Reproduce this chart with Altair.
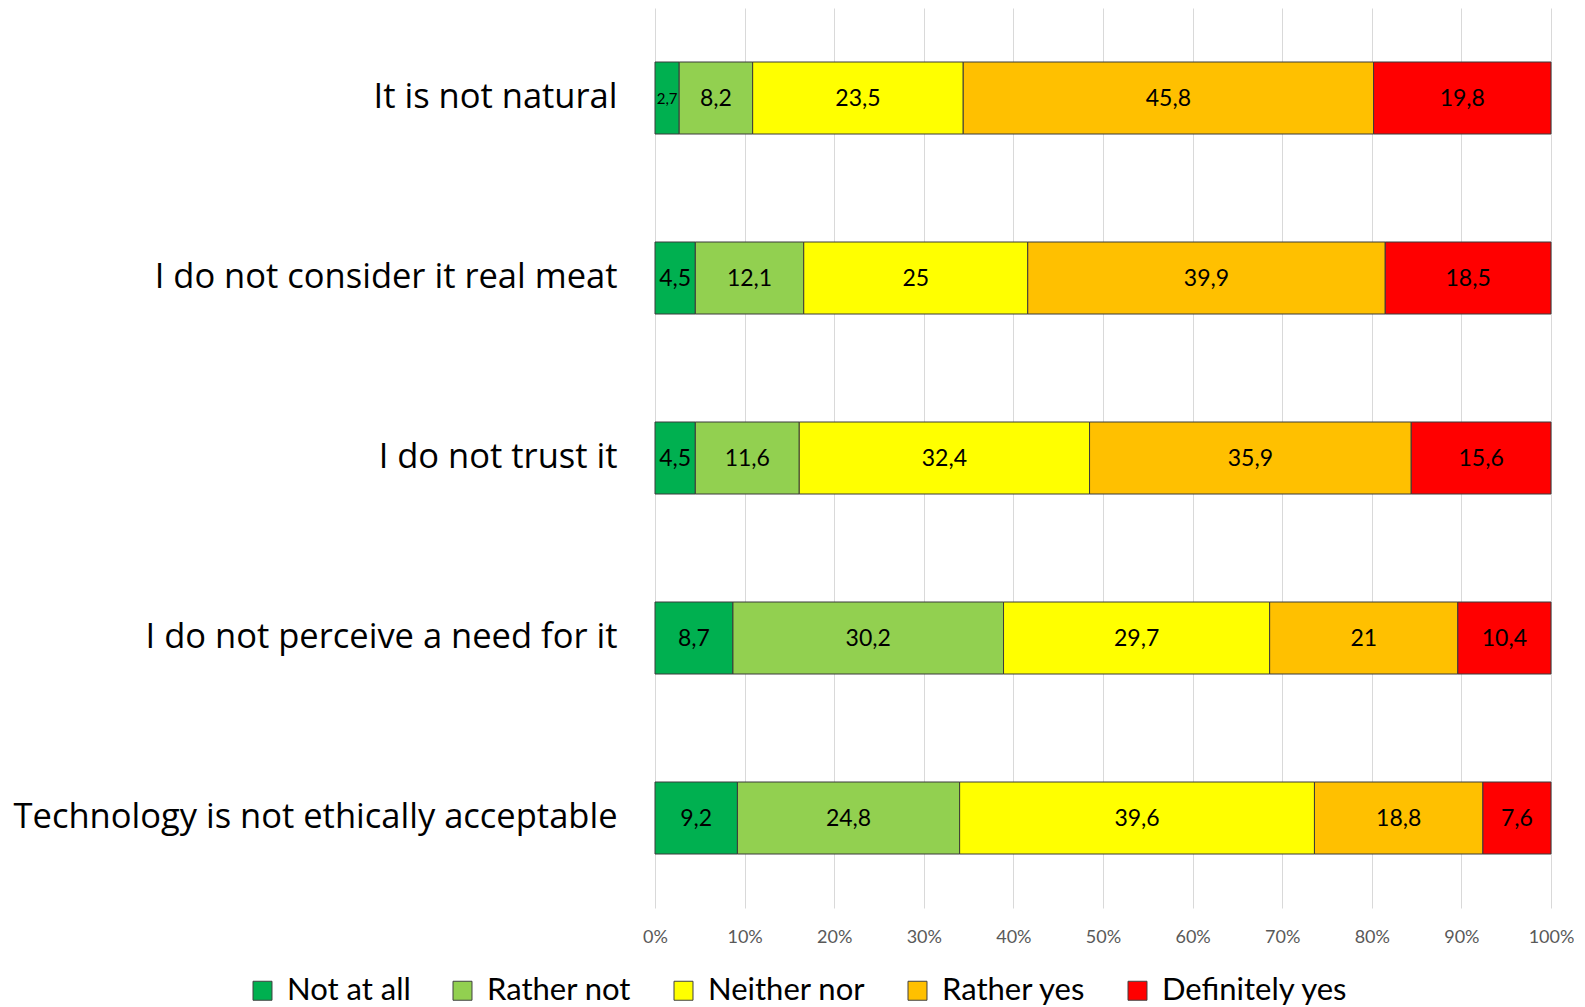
import altair as alt
import pandas as pd

# Statements shown on the vertical axis (top to bottom)
items = [
    "It is not natural",
    "I do not consider it real meat",
    "I do not trust it",
    "I do not perceive a need for it",
    "Technology is not ethically acceptable",
]

# Answer categories in stacking order and their colours
answers = ["Not at all", "Rather not", "Neither nor", "Rather yes", "Definitely yes"]
colors = ["#00B050", "#92D050", "#FFFF00", "#FFC000", "#FF0000"]

# Share of respondents (%) per answer, one list per statement
not_at_all = [2.7, 4.5, 4.5, 8.7, 9.2]
rather_not = [8.2, 12.1, 11.6, 30.2, 24.8]
neither_nor = [23.5, 25.0, 32.4, 29.7, 39.6]
rather_yes = [45.8, 39.9, 35.9, 21.0, 18.8]
definitely_yes = [19.8, 18.5, 15.6, 10.4, 7.6]

series = [not_at_all, rather_not, neither_nor, rather_yes, definitely_yes]

rows = []
for k, (answer, vals) in enumerate(zip(answers, series)):
    for item, v in zip(items, vals):
        rows.append({
            "item": item,
            "answer": answer,
            "order": k,
            "value": v,
            "label": f"{v:g}".replace(".", ","),
        })
df = pd.DataFrame(rows)

FONT = "Lato"
LABEL_FONT = "Open Sans"

base = alt.Chart(df).transform_stack(
    stack="value",
    groupby=["item"],
    sort=[alt.SortField("order", order="ascending")],
    as_=["v0", "v1"],
).transform_calculate(
    x0="datum.v0 / 100",
    x1="datum.v1 / 100",
    mid="(datum.v0 + datum.v1) / 200",
)

y_enc = alt.Y(
    "item:N",
    sort=items,
    title=None,
    scale=alt.Scale(paddingInner=0.6, paddingOuter=0.3),
    axis=alt.Axis(
        labelFont=LABEL_FONT,
        labelFontSize=34.5,
        labelColor="#000000",
        labelPadding=38,
        labelLimit=900,
        ticks=False,
        domain=False,
        grid=False,
        minExtent=643,
        maxExtent=643,
    ),
)

bars = base.mark_bar(stroke="#3a3a3a", strokeWidth=1).encode(
    x=alt.X(
        "x0:Q",
        title=None,
        scale=alt.Scale(domain=[0, 1], nice=False),
        axis=alt.Axis(
            format=".0%",
            values=[i / 10 for i in range(11)],
            labelFont=FONT,
            labelFontSize=18,
            labelColor="#595959",
            labelPadding=20,
            labelFlush=False,
            ticks=False,
            domain=False,
            grid=True,
            gridColor="#D9D9D9",
            gridWidth=1,
        ),
    ),
    x2="x1:Q",
    y=y_enc,
    color=alt.Color(
        "answer:N",
        sort=answers,
        scale=alt.Scale(domain=answers, range=colors),
        legend=alt.Legend(
            title=None,
            orient="none",
            direction="horizontal",
            legendX=-408,
            legendY=967,
            symbolType="square",
            symbolSize=360,
            symbolStrokeColor="#404040",
            symbolStrokeWidth=1,
            symbolOpacity=1,
            labelFont=FONT,
            labelFontSize=31,
            labelColor="#000000",
            labelOffset=9,
            columnPadding=36,
            labelLimit=400,
        ),
    ),
    order=alt.Order("order:Q"),
)

labels = base.mark_text(font=FONT, color="#000000", baseline="middle", align="center", dy=1).encode(
    x=alt.X("mid:Q"),
    y=y_enc,
    text="label:N",
    size=alt.condition("datum.value < 3", alt.value(15), alt.value(23)),
)

chart = (
    alt.layer(bars, labels)
    .properties(
        width=896,
        height=900,
        padding={"left": 12, "top": 8, "right": 0, "bottom": 0},
        background="#ffffff",
    )
    .configure_view(stroke=None)
)

chart.save("out.html", embed_options={"renderer": "svg", "actions": False})
